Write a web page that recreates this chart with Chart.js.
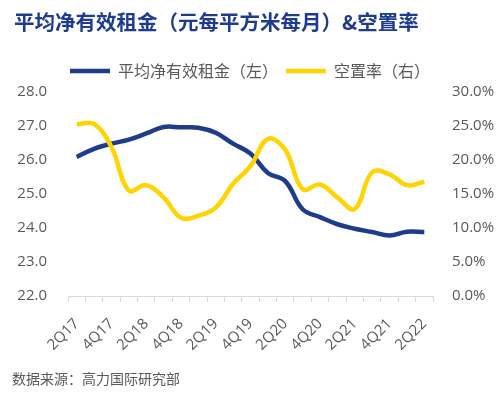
<!DOCTYPE html>
<html>
<head>
<meta charset="utf-8">
<script src="https://cdn.jsdelivr.net/npm/chart.js@4.4.1/dist/chart.umd.min.js"></script>
<style>
  html, body { margin: 0; padding: 0; background: #fff; }
  #wrap { position: relative; width: 500px; height: 396px; overflow: hidden; }
  #title {
    position: absolute; left: 14px; top: 6px;
    font: bold 20.5px "Noto Sans CJK SC", sans-serif; color: #1F3C8C;
    white-space: nowrap;
  }
  #source {
    position: absolute; left: 12px; top: 368px;
    font: 14px "Noto Sans CJK SC", sans-serif; color: #595959;
    white-space: nowrap;
  }
  canvas { position: absolute; left: 0; top: 0; }
</style>
</head>
<body>
<div id="wrap">
  <canvas id="chart" width="500" height="396"></canvas>
  <div id="title">平均净有效租金（元每平方米每月）&amp;空置率</div>
  <div id="source">数据来源：高力国际研究部</div>
</div>
<script>
// quarters 2Q17 .. 2Q22
const quarters = ['2Q17', '3Q17', '4Q17', '1Q18', '2Q18', '3Q18', '4Q18', '1Q19', '2Q19', '3Q19', '4Q19',
  '1Q20', '2Q20', '3Q20', '4Q20', '1Q21', '2Q21', '3Q21', '4Q21', '1Q22', '2Q22'];

// 平均净有效租金 (元/平方米/月), left axis
const rent = [26.09, 26.33, 26.48, 26.6, 26.78, 26.97, 26.96, 26.95, 26.8, 26.48, 26.19,
  25.62, 25.38, 24.55, 24.32, 24.11, 23.98, 23.88, 23.78, 23.89, 23.88];

// 空置率 (%), right axis
const vacancy = [25.25, 25.3, 21.9, 15.5, 16.3, 14.5, 11.5, 11.8, 13.0, 16.5, 19.1,
  23.1, 21.5, 15.7, 16.4, 14.5, 12.8, 18.2, 17.9, 16.3, 16.8];

const leftTicks = { min: 22, max: 28, step: 1 };
const rightTicks = { min: 0, max: 30, step: 5 };

const navy = '#1F3C8C';
const yellow = '#FFD400';
const grey = '#595959';

new Chart(document.getElementById('chart'), {
  type: 'line',
  data: {
    labels: quarters,
    datasets: [
      {
        label: '平均净有效租金（左）',
        data: rent,
        yAxisID: 'y',
        borderColor: navy,
        backgroundColor: navy,
        borderWidth: 4.5,
        pointRadius: 0,
        tension: 0.4,
        order: 2
      },
      {
        label: '空置率（右）',
        data: vacancy,
        yAxisID: 'y1',
        borderColor: yellow,
        backgroundColor: yellow,
        borderWidth: 4.5,
        pointRadius: 0,
        tension: 0.4,
        order: 1
      }
    ]
  },
  options: {
    responsive: false,
    animation: false,
    devicePixelRatio: 1,
    layout: { padding: { top: 55, left: 0, right: 0, bottom: 0 } },
    plugins: {
      title: { display: false },
      // empty spacer between legend and plot area
      subtitle: { display: true, text: '', weight: 500, padding: 0, font: { size: 2.5 } },
      tooltip: { enabled: false },
      legend: {
        display: true,
        position: 'top',
        align: 'center',
        labels: {
          usePointStyle: true,
          pointStyle: 'line',
          pointStyleWidth: 40,
          padding: 8,
          color: grey,
          font: { family: '"Noto Sans CJK SC", sans-serif', size: 16 },
          sort: (a, b) => a.datasetIndex - b.datasetIndex
        }
      }
    },
    scales: {
      x: {
        offset: true,
        grid: { offset: true, drawOnChartArea: false, drawTicks: true, tickLength: 6, color: '#D9D9D9' },
        border: { display: true, color: '#D9D9D9' },
        ticks: {
          autoSkip: false,
          minRotation: 45,
          maxRotation: 45,
          padding: 13,
          color: grey,
          font: { family: '"Open Sans", sans-serif', size: 15 },
          callback: (v, i) => (i % 2 === 0 ? quarters[i] : '')
        },
        afterFit: (s) => { s.height = 100; }
      },
      y: {
        position: 'left',
        min: leftTicks.min,
        max: leftTicks.max,
        grid: { display: false, drawTicks: false },
        border: { display: false },
        ticks: {
          stepSize: leftTicks.step,
          padding: 21,
          color: grey,
          font: { family: '"Open Sans", sans-serif', size: 15 },
          callback: (v) => v.toFixed(1)
        },
        afterFit: (s) => { s.width = 68; }
      },
      y1: {
        position: 'right',
        min: rightTicks.min,
        max: rightTicks.max,
        grid: { display: false, drawTicks: false },
        border: { display: false },
        ticks: {
          stepSize: rightTicks.step,
          padding: 19,
          color: grey,
          font: { family: '"Open Sans", sans-serif', size: 15 },
          callback: (v) => v.toFixed(1) + '%'
        },
        afterFit: (s) => { s.width = 67; }
      }
    }
  }
});
</script>
</body>
</html>
